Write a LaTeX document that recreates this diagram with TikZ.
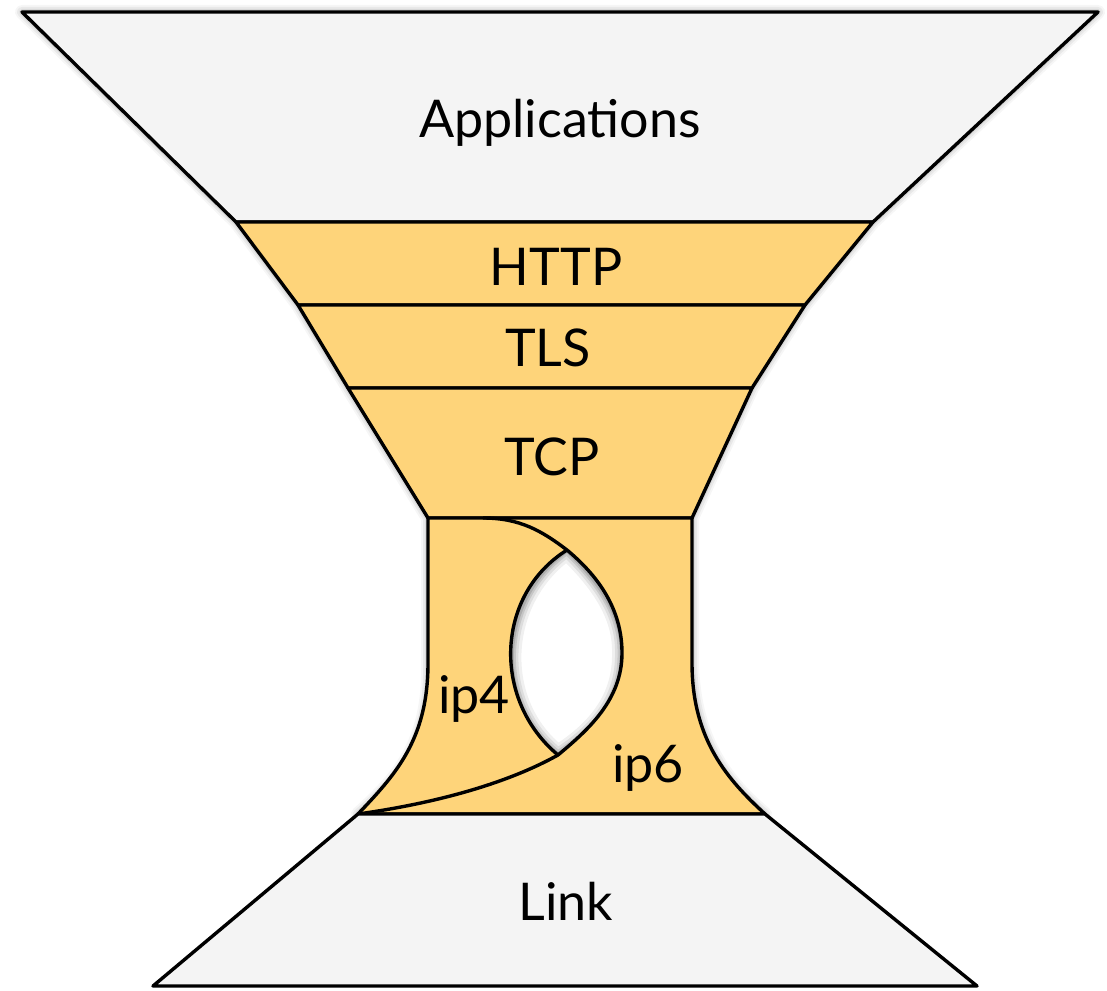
\documentclass[tikz,border=0pt]{standalone}
\usepackage{fontspec}
\setmainfont{Lato}
\definecolor{band}{RGB}{254,212,122}
\definecolor{pale}{RGB}{244,244,244}
% outer silhouette of the upper part of the hourglass
\newcommand{\upperoutline}{(A1) -- (A2) -- (A3) -- (H3) -- (T3) -- (C3) -- (R1)
  .. controls (692,740) and (728,780) .. (I3) -- (I4)
  .. controls (395,775) and (428,740) .. (L1) -- (C4) -- (T4) -- (H4) -- (A4) -- cycle}
% outline of the lens-shaped hole between the ip4 and ip6 routes
\newcommand{\lensoutline}{(P1) .. controls (597,575) and (622,608) .. (M)
  .. controls (622,700) and (588,730) .. (P2)
  .. controls (492,700) and (495,595) .. (P1) -- cycle}
\begin{document}
\begin{tikzpicture}[x=1pt,y=-1pt,line join=round,
  edge/.style={draw=black,line width=3.4pt},
  layer/.style={font=\fontsize{52}{56}\selectfont,inner sep=0pt,anchor=base}]
\useasboundingbox (0,0) rectangle (1107,990);

% corner points of the stack
\coordinate (A1) at (22,12);   \coordinate (A2) at (1098,12);
\coordinate (A3) at (873,222); \coordinate (A4) at (236,222);
\coordinate (H3) at (805,305); \coordinate (H4) at (298,305);
\coordinate (T3) at (752,388); \coordinate (T4) at (348,388);
\coordinate (C3) at (692,518); \coordinate (C4) at (428,518);
\coordinate (R1) at (692,663); \coordinate (L1) at (428,663);
\coordinate (I3) at (765,814); \coordinate (I4) at (358,814);
\coordinate (L3) at (977,986); \coordinate (L4) at (153,986);
% knots of the routing curve through the waist
\coordinate (S) at (483,518);
\coordinate (P1) at (567,550);
\coordinate (M) at (622,653);
\coordinate (P2) at (558,755);

% soft shadow: stacked translucent strokes give a blurred edge
\foreach \w/\o in {14/0.035,10/0.05,6/0.07,2/0.10}
  \filldraw[black,opacity=\o,line width=\w pt,shift={(2,4)}] \upperoutline;

% layers
\filldraw[fill=pale,edge] (A1) -- (A2) -- (A3) -- (A4) -- cycle;
\filldraw[fill=band,edge] (A4) -- (A3) -- (H3) -- (H4) -- cycle;
\filldraw[fill=band,edge] (H4) -- (H3) -- (T3) -- (T4) -- cycle;
\filldraw[fill=band,edge] (T4) -- (T3) -- (C3) -- (C4) -- cycle;
\filldraw[fill=band,edge] (C4) -- (C3) -- (R1)
  .. controls (692,740) and (728,780) .. (I3) -- (I4)
  .. controls (395,775) and (428,740) .. (L1) -- cycle;

% hole between the two routes, with an inner shadow along its upper rim
\fill[white] \lensoutline;
\begin{scope}
  \clip \lensoutline;
  \foreach \w/\o in {20/0.06,14/0.08,9/0.10,5/0.12}
    \draw[black,opacity=\o,line width=\w pt,shift={(1,5)}] \lensoutline;
\end{scope}

% ip4 / ip6 routes
\draw[edge] (S) .. controls (520,518) and (542,531) .. (P1)
  .. controls (597,575) and (622,608) .. (M)
  .. controls (622,700) and (588,730) .. (P2)
  .. controls (508,783) and (437,803) .. (I4);
\draw[edge] (P1) .. controls (495,595) and (492,700) .. (P2);

% link layer
\filldraw[fill=pale,edge] (I4) -- (I3) -- (L3) -- (L4) -- cycle;

% labels
\node[layer] (app)  at (560,137) {Applications};
\node[layer] (http) at (556,285) {HTTP};
\node[layer] (tls)  at (548,366) {TLS};
\node[layer] (tcp)  at (552,475) {TCP};
\node[layer] (ip4)  at (474,713) {ip4};
\node[layer] (ip6)  at (648,782) {ip6};
\node[layer] (link) at (566,920) {Link};
\end{tikzpicture}
\end{document}
